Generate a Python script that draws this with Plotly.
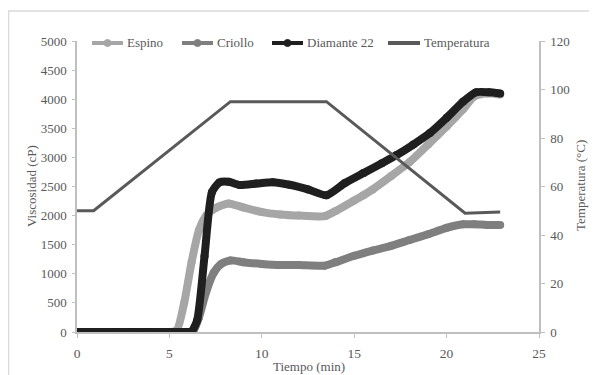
import plotly.graph_objects as go

# Data
espino_t = [0, 1, 2, 3, 4, 5, 5.4, 5.8, 6.2, 6.6, 7.0, 7.5, 8.2, 9, 10, 11, 12, 13.4,
            14, 15, 15.5, 16, 17, 18, 19, 20, 20.9, 21.5, 22.2, 22.9]
espino_v = [0, 0, 0, 0, 0, 0, 30, 500, 1200, 1750, 2000, 2130, 2210, 2140, 2060, 2020, 2000, 1990,
            2080, 2260, 2350, 2450, 2680, 2920, 3220, 3530, 3830, 4050, 4100, 4080]

criollo_t = [0, 1, 2, 3, 4, 5, 6, 6.3, 6.6, 7.0, 7.4, 7.8, 8.3, 9, 10, 11, 12, 13.4,
             14, 15, 16, 17, 18, 19, 20, 20.9, 21.5, 22.2, 22.9]
criollo_v = [0, 0, 0, 0, 0, 0, 0, 20, 250, 700, 1020, 1170, 1230, 1200, 1170, 1150, 1150, 1140,
             1200, 1310, 1400, 1480, 1580, 1680, 1790, 1850, 1850, 1840, 1840]

diamante_t = [0, 1, 2, 3, 4, 5, 6, 6.2, 6.5, 6.9, 7.3, 7.7, 8.2, 8.8, 9.7, 10.6, 11.5, 12.5, 13.5,
              14.5, 15.5, 16.5, 17.3, 18.2, 19.1, 20, 20.9, 21.6, 22.3, 22.9]
diamante_v = [0, 0, 0, 0, 0, 0, 0, 10, 200, 1300, 2400, 2570, 2580, 2525, 2550, 2575, 2530, 2450, 2350,
              2560, 2730, 2900, 3040, 3220, 3420, 3680, 3960, 4120, 4120, 4100]

temp_t = [0, 0.9, 8.3, 13.5, 21.0, 22.9]
temp_v = [50, 50, 95, 95, 49, 49.5]

series_names = ["Espino", "Criollo", "Diamante 22", "Temperatura"]
series_colors = ["#A6A6A6", "#7F7F7F", "#1F1F1F", "#595959"]

FONT = "Liberation Serif"
AXC = "#595959"
LINEC = "#BFBFBF"

fig = go.Figure()

def visc(name, t, v, color):
    fig.add_trace(go.Scatter(
        x=t, y=v, name=name, mode="lines+markers", showlegend=False,
        line=dict(color=color, width=8, shape="spline", smoothing=0.6),
        marker=dict(color=color, size=8),
    ))

visc(series_names[0], espino_t, espino_v, series_colors[0])
visc(series_names[1], criollo_t, criollo_v, series_colors[1])
visc(series_names[2], diamante_t, diamante_v, series_colors[2])

fig.add_trace(go.Scatter(
    x=temp_t, y=temp_v, name=series_names[3], mode="lines", yaxis="y2", showlegend=False,
    line=dict(color=series_colors[3], width=3),
))

# page-pixel -> paper coordinate helpers (plot area on the page: 77..539 x 41..332)
def px_x(p):
    return (p - 77) / 462.0

def px_y(p):
    return (332 - p) / 291.0

leg_y = 43
leg_items = [(92, 123, 125), (182, 213, 215), (272, 303, 305), (388, 420, 422)]
shapes = [dict(type="rect", xref="paper", yref="paper", x0=px_x(8.5), x1=1.3, y0=-0.3, y1=px_y(11),
               line=dict(color="#D9D9D9", width=1.5), fillcolor="rgba(0,0,0,0)", layer="below")]
annotations = []
for i, (x0, x1, xt) in enumerate(leg_items):
    c = series_colors[i]
    shapes.append(dict(type="line", xref="paper", yref="paper",
                       x0=px_x(x0), x1=px_x(x1), y0=px_y(leg_y), y1=px_y(leg_y),
                       line=dict(color=c, width=4)))
    if i < 3:
        cx = (x0 + x1) / 2
        shapes.append(dict(type="circle", xref="paper", yref="paper",
                           x0=px_x(cx - 3.5), x1=px_x(cx + 3.5),
                           y0=px_y(leg_y + 3.5), y1=px_y(leg_y - 3.5),
                           line=dict(color=c, width=1), fillcolor=c))
    annotations.append(dict(xref="paper", yref="paper", x=px_x(xt), y=px_y(leg_y),
                            xanchor="left", yanchor="middle", showarrow=False,
                            text=series_names[i],
                            font=dict(family=FONT, size=13, color=AXC)))

# axis titles
annotations.append(dict(xref="paper", yref="paper", x=px_x(309), y=px_y(366),
                        xanchor="center", yanchor="middle", showarrow=False,
                        text="Tiempo (min)", font=dict(family=FONT, size=13, color=AXC)))
annotations.append(dict(xref="paper", yref="paper", x=px_x(31), y=px_y(186),
                        xanchor="center", yanchor="middle", showarrow=False, textangle=-90,
                        text="Viscosidad (cP)", font=dict(family=FONT, size=13, color=AXC)))
annotations.append(dict(xref="paper", yref="paper", x=px_x(580), y=px_y(186),
                        xanchor="center", yanchor="middle", showarrow=False, textangle=-90,
                        text="Temperatura (°C)", font=dict(family=FONT, size=13, color=AXC)))

# The page body has an 8px margin, so the figure is 8px smaller and offsets compensate
fig.update_layout(
    width=589, height=367,
    margin=dict(l=69, r=58, t=33, b=43, autoexpand=False),
    paper_bgcolor="white", plot_bgcolor="white",
    font=dict(family=FONT, size=13, color=AXC),
    showlegend=False,
    xaxis=dict(range=[0, 25], dtick=5, tick0=0, showgrid=False, zeroline=False, automargin=False,
               showline=True, linecolor=LINEC, linewidth=1.5, ticks="outside",
               ticklen=4, tickcolor=LINEC, ticklabelstandoff=4,
               tickfont=dict(family=FONT, size=13.5, color=AXC)),
    yaxis=dict(range=[0, 5000], dtick=500, tick0=0, showgrid=False, zeroline=False, automargin=False,
               showline=True, linecolor=LINEC, linewidth=1.5, ticks="outside",
               ticklen=3, tickcolor=LINEC, ticklabelstandoff=3,
               tickfont=dict(family=FONT, size=13, color=AXC)),
    yaxis2=dict(range=[0, 120], dtick=20, tick0=0, overlaying="y", side="right", automargin=False,
                showgrid=False, zeroline=False, showline=True, linecolor=LINEC, linewidth=1.5,
                ticks="outside", ticklen=4, tickcolor=LINEC, ticklabelstandoff=3,
                tickfont=dict(family=FONT, size=13, color=AXC)),
    shapes=shapes,
    annotations=annotations,
)

fig.write_html("out.html")
